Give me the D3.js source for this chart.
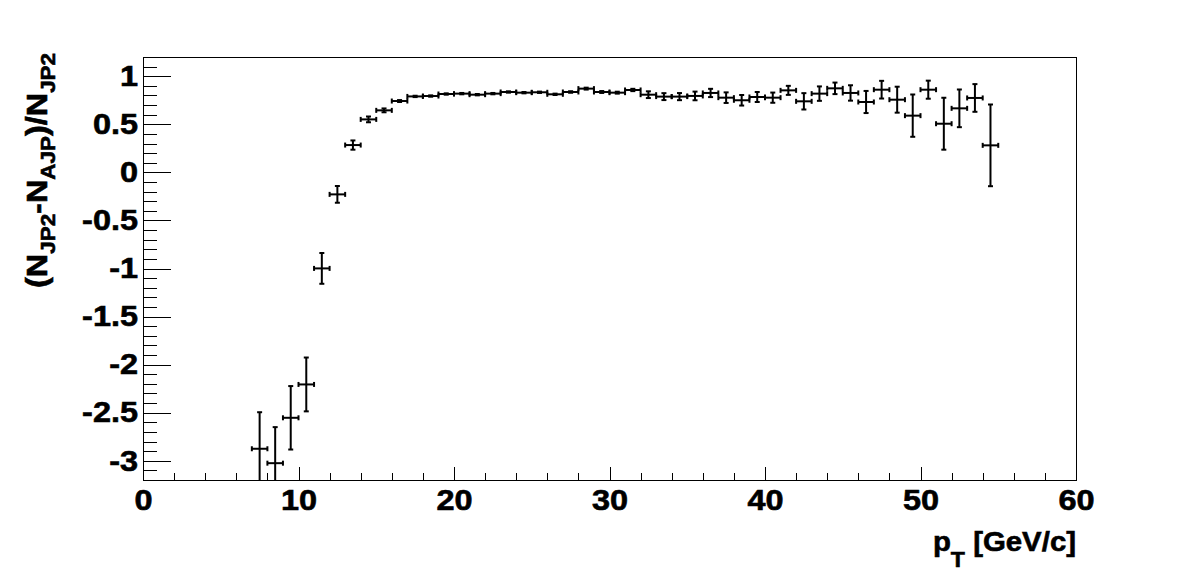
<!DOCTYPE html>
<html>
<head>
<meta charset="utf-8">
<script src="https://cdn.jsdelivr.net/npm/d3@7"></script>
<style>
  html, body { margin: 0; padding: 0; background: #fff; }
  svg { display: block; }
  text { font-family: "Liberation Sans", Arial, Helvetica, sans-serif; font-weight: bold; fill: #000;
         stroke: #000; stroke-width: 0.6px; }
</style>
</head>
<body>
<svg id="chart" width="1196" height="572"></svg>
<script>
// ---- data ----
const ptCenters = [7.5, 8.5, 9.5, 10.5, 11.5, 12.5, 13.5, 14.5, 15.5, 16.5, 17.5, 18.5, 19.5, 20.5, 21.5, 22.5,
  23.5, 24.5, 25.5, 26.5, 27.5, 28.5, 29.5, 30.5, 31.5, 32.5, 33.5, 34.5, 35.5, 36.5, 37.5, 38.5,
  39.5, 40.5, 41.5, 42.5, 43.5, 44.5, 45.5, 46.5, 47.5, 48.5, 49.5, 50.5, 51.5, 52.5, 53.5, 54.5];
const ratioValues = [-2.875, -3.025, -2.553, -2.206, -0.999, -0.229, 0.284, 0.551, 0.645, 0.742, 0.790, 0.794, 0.815, 0.819, 0.808, 0.819,
  0.836, 0.829, 0.833, 0.812, 0.836, 0.871, 0.836, 0.829, 0.857, 0.808, 0.788, 0.788, 0.795, 0.826, 0.777, 0.750,
  0.784, 0.777, 0.853, 0.739, 0.819, 0.874, 0.826, 0.732, 0.860, 0.756, 0.590, 0.860, 0.506, 0.666, 0.774, 0.281];
const ratioErrors = [0.380, 0.375, 0.330, 0.280, 0.160, 0.087, 0.048, 0.030, 0.020, 0.010, 0.007, 0.007, 0.007, 0.007, 0.007, 0.007,
  0.007, 0.007, 0.007, 0.007, 0.008, 0.010, 0.010, 0.010, 0.012, 0.035, 0.036, 0.037, 0.045, 0.043, 0.055, 0.055,
  0.052, 0.053, 0.047, 0.085, 0.075, 0.060, 0.080, 0.115, 0.092, 0.135, 0.220, 0.094, 0.270, 0.196, 0.144, 0.425];
const binHalfWidth = 0.5;
const xMajorTicks = [0, 10, 20, 30, 40, 50, 60];
const xTickLabels = ["0", "10", "20", "30", "40", "50", "60"];
const yMajorTicks = [-3, -2.5, -2, -1.5, -1, -0.5, 0, 0.5, 1];
const yTickLabels = ["-3", "-2.5", "-2", "-1.5", "-1", "-0.5", "0", "0.5", "1"];
const xDomain = [0, 60];
const yDomain = [-3.2, 1.2];

// ---- layout ----
const L = 143, R = 1076, T = 57, B = 480;
const SX = 1.12; // horizontal stretch of the ROOT font
const FS = 29;
const svg = d3.select("#chart");
const x = d3.scaleLinear().domain(xDomain).range([L, R]);
const y = d3.scaleLinear().domain(yDomain).range([B, T]);

// minor ticks
const xMinor = d3.range(0, 61, 2).filter(v => v % 10 !== 0);
const yMinor = d3.range(-32, 13, 1).map(v => v / 10).filter(v => Math.abs(Math.round(v * 10)) % 5 !== 0);

function styleAxis(g) {
  g.select(".domain").remove();
  g.selectAll(".tick line").attr("stroke", "#000").attr("stroke-width", 1).attr("shape-rendering", "crispEdges");
}

// x axis
svg.append("g").attr("transform", `translate(0,${B})`)
  .call(d3.axisBottom(x).tickValues(xMinor).tickSizeInner(-7).tickSizeOuter(0).tickFormat(""))
  .call(styleAxis);
const gx = svg.append("g").attr("transform", `translate(0,${B})`)
  .call(d3.axisBottom(x).tickValues(xMajorTicks).tickSizeInner(-13).tickSizeOuter(0).tickPadding(9)
    .tickFormat((d, i) => xTickLabels[i]))
  .call(styleAxis);
gx.selectAll(".tick text").attr("font-size", FS).attr("font-family", null)
  .attr("transform", `scale(${SX},1)`);

// y axis
svg.append("g").attr("transform", `translate(${L},0)`)
  .call(d3.axisLeft(y).tickValues(yMinor).tickSizeInner(-14).tickSizeOuter(0).tickFormat(""))
  .call(styleAxis);
const gy = svg.append("g").attr("transform", `translate(${L},0)`)
  .call(d3.axisLeft(y).tickValues(yMajorTicks).tickSizeInner(-28).tickSizeOuter(0).tickPadding(5)
    .tickFormat((d, i) => yTickLabels[i]))
  .call(styleAxis);
gy.selectAll(".tick text").attr("font-size", FS).attr("font-family", null)
  .attr("x", -5 / SX).attr("transform", `scale(${SX},1)`);

// frame
svg.append("rect").attr("x", L).attr("y", T).attr("width", R - L).attr("height", B - T)
  .attr("fill", "none").attr("stroke", "#000").attr("stroke-width", 1).attr("shape-rendering", "crispEdges");

// clip
svg.append("clipPath").attr("id", "frameClip").append("rect")
  .attr("x", L).attr("y", T).attr("width", R - L).attr("height", B - T);

// data points with error bars
const pts = ptCenters.map((c, i) => ({ c, v: ratioValues[i], e: ratioErrors[i] }));
const gp = svg.append("g").attr("clip-path", "url(#frameClip)")
  .attr("stroke", "#000").attr("stroke-width", 2).attr("fill", "none");
const cap = 2.5;
const ptG = gp.selectAll("g.pt").data(pts).join("g").attr("class", "pt");
// horizontal bar
ptG.append("line")
  .attr("x1", d => x(d.c - binHalfWidth)).attr("x2", d => x(d.c + binHalfWidth))
  .attr("y1", d => y(d.v)).attr("y2", d => y(d.v));
// horizontal bar end caps
ptG.append("line")
  .attr("x1", d => x(d.c - binHalfWidth)).attr("x2", d => x(d.c - binHalfWidth))
  .attr("y1", d => y(d.v) - cap).attr("y2", d => y(d.v) + cap);
ptG.append("line")
  .attr("x1", d => x(d.c + binHalfWidth)).attr("x2", d => x(d.c + binHalfWidth))
  .attr("y1", d => y(d.v) - cap).attr("y2", d => y(d.v) + cap);
// vertical bar
ptG.append("line")
  .attr("x1", d => x(d.c)).attr("x2", d => x(d.c))
  .attr("y1", d => y(d.v + d.e)).attr("y2", d => y(d.v - d.e));
// vertical bar caps
ptG.append("line")
  .attr("x1", d => x(d.c) - cap).attr("x2", d => x(d.c) + cap)
  .attr("y1", d => y(d.v + d.e)).attr("y2", d => y(d.v + d.e));
ptG.append("line")
  .attr("x1", d => x(d.c) - cap).attr("x2", d => x(d.c) + cap)
  .attr("y1", d => y(d.v - d.e)).attr("y2", d => y(d.v - d.e));

// x title
const xt = svg.append("text").attr("text-anchor", "end").attr("font-size", 28)
  .attr("transform", `translate(${R},551) scale(1.05,1)`);
xt.append("tspan").text("p");
xt.append("tspan").attr("font-size", 22).attr("dy", 16).text("T");
xt.append("tspan").attr("dy", -16).text(" [GeV/c]");

// y title
const yt = svg.append("text").attr("text-anchor", "end").attr("font-size", 29)
  .attr("transform", `translate(47,53) rotate(-90) scale(1.12,1)`);
yt.append("tspan").text("(N");
yt.append("tspan").attr("font-size", 20).attr("dy", 8).text("JP2");
yt.append("tspan").attr("dy", -8).text("-N");
yt.append("tspan").attr("font-size", 20).attr("dy", 8).text("AJP");
yt.append("tspan").attr("dy", -8).text(")/N");
yt.append("tspan").attr("font-size", 20).attr("dy", 8).text("JP2");
</script>
</body>
</html>
